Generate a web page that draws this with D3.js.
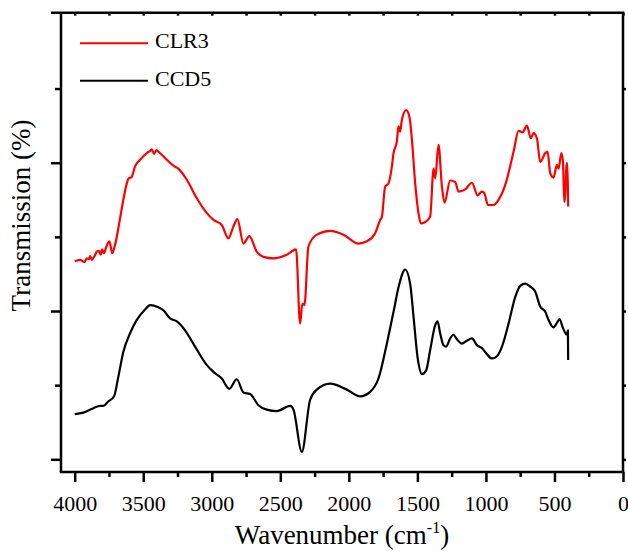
<!DOCTYPE html>
<html>
<head>
<meta charset="utf-8">
<script src="https://cdn.jsdelivr.net/npm/d3@7"></script>
<style>
  html, body { margin: 0; padding: 0; background: #fff; }
  svg { display: block; }
  svg text { font-family: "Liberation Serif", "Times New Roman", serif !important; }
</style>
</head>
<body>
<svg id="chart" width="628" height="551"></svg>
<script>
// ---- data (wavenumber cm^-1, transmission in arbitrary units) ----
const seriesNames = ["CLR3", "CCD5"];
const seriesColors = ["#ff0000", "#000000"];

const clr3Wavenumber = [4000,3961,3930,3912,3895,3888,3875,3866,3850,3839,3823,3810,3800,3786,3771,3747,3726,3706,3669,3645,3609,3584,3560,3523,3474,3450,3438,3421,3405,3390,3328,3280,3244,3182,3109,3036,2988,2927,2879,2842,2813,2769,2726,2672,2623,2550,2453,2385,2356,2339,2324,2295,2234,2136,2039,1930,1869,1808,1771,1759,1735,1711,1686,1674,1650,1638,1626,1613,1582,1558,1540,1516,1492,1474,1443,1407,1382,1370,1346,1321,1302,1261,1224,1200,1151,1102,1061,1029,1012,985,944,908,859,798,762,733,701,672,653,628,604,567,550,531,507,482,470,450,438,428,420,413,405,400];
const clr3Values     = [26.7,26.9,26.6,27.1,27.0,27.4,26.9,27.1,27.6,28.0,28.1,27.6,28.3,27.8,28.6,29.4,27.8,28.9,32.5,35.0,37.8,38.1,39.5,40.4,41.3,41.6,41.8,41.2,41.7,41.5,40.4,39.6,39.2,37.7,35.2,33.2,32.3,31.6,29.8,31.4,32.4,29.1,30.1,28.0,27.3,27.1,27.6,28.3,18.3,21.0,20.8,28.7,30.3,30.8,30.3,29.1,29.4,30.5,32.3,32.7,36.8,37.2,39.5,41.3,42.8,44.9,44.2,45.8,47.1,46.2,43.1,37.2,33.2,31.8,32.0,32.7,39.2,37.9,42.4,36.8,34.6,37.6,37.4,36.1,36.4,37.3,35.6,36.1,35.9,34.3,34.3,35.0,37.0,41.5,44.3,44.1,45.0,43.3,44.0,43.3,40.1,41.3,41.5,38.6,38.0,39.7,39.2,41.3,40.1,34.7,35.9,39.9,39.9,34.1];

const ccd5Wavenumber = [4000,3937,3864,3815,3791,3755,3713,3682,3645,3596,3547,3487,3450,3390,3353,3304,3255,3195,3122,3036,2988,2927,2872,2818,2769,2720,2660,2599,2526,2428,2404,2343,2283,2234,2136,2015,1917,1845,1784,1723,1674,1631,1589,1553,1528,1499,1467,1436,1407,1370,1353,1334,1310,1290,1261,1237,1212,1175,1139,1102,1066,1029,998,956,920,883,835,786,750,713,677,640,604,567,543,507,482,463,438,409,402,400];
const ccd5Values     = [6.1,6.3,6.9,7.2,7.2,7.8,8.5,11.1,14.5,17.0,18.8,20.2,20.8,20.5,20.1,19.0,18.6,17.4,15.2,12.7,11.8,10.9,9.5,10.8,9.0,8.8,7.3,6.7,6.5,7.2,6.7,1.0,8.0,9.4,10.2,9.4,8.5,9.1,10.9,15.6,19.9,23.7,25.6,23.7,19.2,13.8,11.5,12.0,14.7,18.1,18.6,17.0,15.4,15.2,16.3,16.8,16.2,15.6,16.0,16.3,15.4,15.0,14.3,13.6,13.9,15.2,18.3,21.9,23.4,23.7,23.3,22.6,20.6,19.9,18.8,17.8,18.4,18.9,17.7,16.8,17.4,13.4];

const xMajorTicks = [4000,3500,3000,2500,2000,1500,1000,500,0];
const xMinorTicks = [3750,3250,2750,2250,1750,1250,750,250];
const yMajorTicks = [0,20,40];
const yMinorTicks = [10,30,50];
const xTitle = "Wavenumber (cm";
const xTitleSup = "-1";
const yTitle = "Transmission (%)";

// ---- layout ----
const plotLeft = 61, plotRight = 623, plotTop = 12.7, plotBottom = 472;
const serif = "'Liberation Serif', 'Times New Roman', serif";

const svg = d3.select("#chart");

const x = d3.scaleLinear().domain([4100, 0]).range([plotLeft, plotRight]);
const y = d3.scaleLinear().domain([-1.71, 60.23]).range([plotBottom, plotTop]);

const series = [
  { name: seriesNames[0], color: seriesColors[0], pts: clr3Wavenumber.map((w, i) => [w, clr3Values[i]]) },
  { name: seriesNames[1], color: seriesColors[1], pts: ccd5Wavenumber.map((w, i) => [w, ccd5Values[i]]) }
];

// curves
series.forEach(s => {
  const line = d3.line().x(d => x(d[0])).y(d => y(d[1])).curve(d3.curveMonotoneX);
  svg.append("path")
    .datum(s.pts)
    .attr("d", line)
    .attr("fill", "none")
    .attr("stroke", s.color)
    .attr("stroke-width", 2.2)
    .attr("stroke-linejoin", "round");
});

// axes
const axisStroke = 2.5;
const gB = svg.append("g").attr("transform", `translate(0,${plotBottom})`)
  .call(d3.axisBottom(x).tickValues(xMajorTicks).tickSize(10).tickPadding(13).tickFormat(d3.format("d")));
const gBm = svg.append("g").attr("transform", `translate(0,${plotBottom})`)
  .call(d3.axisBottom(x).tickValues(xMinorTicks).tickSize(5).tickFormat(""));
const gT = svg.append("g").attr("transform", `translate(0,${plotTop})`)
  .call(d3.axisBottom(x).tickValues(xMajorTicks.concat(xMinorTicks)).tickSize(3).tickFormat(""));
const gL = svg.append("g").attr("transform", `translate(${plotLeft},0)`)
  .call(d3.axisLeft(y).tickValues(yMajorTicks).tickSize(10).tickFormat(""));
const gLm = svg.append("g").attr("transform", `translate(${plotLeft},0)`)
  .call(d3.axisLeft(y).tickValues(yMinorTicks).tickSize(6).tickFormat(""));
const gR = svg.append("g").attr("transform", `translate(${plotRight},0)`)
  .call(d3.axisRight(y).tickValues(yMajorTicks.concat(yMinorTicks)).tickSize(3).tickFormat(""));

[gB, gBm, gT, gL, gLm, gR].forEach(g => {
  g.attr("font-family", serif);
  g.select(".domain").remove();
  g.selectAll(".tick line").attr("stroke", "#000").attr("stroke-width", axisStroke);
});
gB.attr("font-size", 22);
gB.selectAll(".tick text")
  .attr("font-family", serif)
  .attr("font-size", 22)
  .attr("fill", "#000");

// frame
svg.append("line").attr("x1", 51).attr("x2", plotRight + 1.25).attr("y1", plotTop).attr("y2", plotTop)
  .attr("stroke", "#000").attr("stroke-width", axisStroke);
svg.append("line").attr("x1", plotLeft - 1.25).attr("x2", plotRight + 1.25).attr("y1", plotBottom).attr("y2", plotBottom)
  .attr("stroke", "#000").attr("stroke-width", axisStroke);
svg.append("line").attr("x1", plotLeft).attr("x2", plotLeft).attr("y1", plotTop).attr("y2", plotBottom)
  .attr("stroke", "#000").attr("stroke-width", axisStroke);
svg.append("line").attr("x1", plotRight).attr("x2", plotRight).attr("y1", plotTop).attr("y2", plotBottom)
  .attr("stroke", "#000").attr("stroke-width", axisStroke);

// titles
const xt = svg.append("text")
  .attr("x", (plotLeft + plotRight) / 2).attr("y", 544)
  .attr("text-anchor", "middle")
  .attr("font-family", serif)
  .attr("font-size", 27).attr("fill", "#000");
xt.append("tspan").text(xTitle);
xt.append("tspan").attr("font-size", 16).attr("dy", -11).text(xTitleSup);
xt.append("tspan").attr("dy", 11).text(")");

svg.append("text")
  .attr("transform", `translate(30,215.5) rotate(-90)`)
  .attr("text-anchor", "middle")
  .attr("font-family", serif)
  .attr("font-size", 27).attr("fill", "#000")
  .text(yTitle);

// legend
const legendY = [43.3, 80.7];
series.forEach((s, i) => {
  svg.append("line")
    .attr("x1", 80).attr("x2", 148).attr("y1", legendY[i]).attr("y2", legendY[i])
    .attr("stroke", s.color).attr("stroke-width", 2);
  svg.append("text")
    .attr("x", 155).attr("y", legendY[i] + 5)
    .attr("font-family", serif)
    .attr("font-size", 22).attr("fill", "#000")
    .text(s.name);
});
</script>
</body>
</html>
